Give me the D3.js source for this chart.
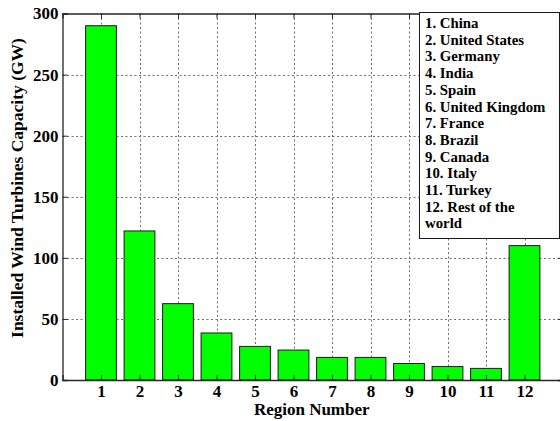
<!DOCTYPE html>
<html>
<head>
<meta charset="utf-8">
<script src="https://cdn.jsdelivr.net/npm/d3@7"></script>
<style>
  html, body { margin: 0; padding: 0; background: #fff; }
  svg { display: block; }
  text { font-family: "Liberation Serif", "Times New Roman", serif; font-weight: bold; fill: #000; }
</style>
</head>
<body>
<svg id="chart" width="560" height="421"></svg>
<script>
// Installed wind turbine capacity by region (GW)
const regions = [1, 2, 3, 4, 5, 6, 7, 8, 9, 10, 11, 12];
const capacityGW = [290, 122, 62.5, 38.5, 27.5, 24.5, 18.5, 18.5, 13.5, 11, 9.5, 110];
const yTicks = [0, 50, 100, 150, 200, 250, 300];
const legendLabels = [
  "1. China", "2. United States", "3. Germany", "4. India", "5. Spain",
  "6. United Kingdom", "7. France", "8. Brazil", "9. Canada", "10. Italy",
  "11. Turkey", "12. Rest of the", "world"
];

const svg = d3.select("#chart");
const plot = { left: 62.5, right: 563, top: 13.5, bottom: 380 };

// x runs from 0 to 13 like a default bar plot, bars are 0.8 wide
const x = d3.scaleLinear().domain([0, 13]).range([plot.left, plot.right]);
const y = d3.scaleLinear().domain([0, 300]).range([plot.bottom, plot.top]);
const barW = x(0.8) - x(0);

// dotted grid
const grid = svg.append("g").attr("stroke", "#6e6e6e").attr("stroke-width", 1)
  .attr("stroke-dasharray", "2,2.5");
grid.selectAll("line.v").data(regions).join("line")
  .attr("x1", d => Math.round(x(d)) + 0.5).attr("x2", d => Math.round(x(d)) + 0.5)
  .attr("y1", plot.top).attr("y2", plot.bottom);
grid.selectAll("line.h").data(yTicks.filter(d => d > 0 && d < 300)).join("line")
  .attr("x1", plot.left).attr("x2", plot.right)
  .attr("y1", d => Math.round(y(d)) + 0.5).attr("y2", d => Math.round(y(d)) + 0.5);

// bars
svg.append("g").selectAll("rect").data(regions).join("rect")
  .attr("x", (d, i) => x(d) - barW / 2)
  .attr("width", barW)
  .attr("y", (d, i) => y(capacityGW[i]))
  .attr("height", (d, i) => y(0) - y(capacityGW[i]))
  .attr("fill", "#00ff00")
  .attr("stroke", "#1a1a1a")
  .attr("stroke-width", 1);

// axes with inward ticks
const xAxis = d3.axisBottom(x).tickValues(regions).tickSize(-5).tickPadding(5).tickFormat(d3.format("d"));
const yAxis = d3.axisLeft(y).tickValues(yTicks).tickSize(-5).tickPadding(4);
const xAxisTop = d3.axisTop(x).tickValues(regions).tickSize(-5).tickFormat("");
const yAxisRight = d3.axisRight(y).tickValues(yTicks).tickSize(-5).tickFormat("");

function styleAxis(g) {
  g.select(".domain").attr("stroke", "#262626").attr("stroke-width", 1.3);
  g.selectAll(".tick line").attr("stroke", "#262626");
  g.selectAll("text").style("font-family", '"Liberation Serif", serif')
    .style("font-weight", "bold").style("font-size", "17px").attr("fill", "#000");
}

svg.append("g").attr("transform", `translate(0,${plot.bottom})`).call(xAxis).call(styleAxis);
svg.append("g").attr("transform", `translate(${plot.left},0)`).call(yAxis).call(styleAxis);
svg.append("g").attr("transform", `translate(0,${plot.top})`).call(xAxisTop).call(styleAxis);
svg.append("g").attr("transform", `translate(${plot.right},0)`).call(yAxisRight).call(styleAxis);

// axis titles
svg.append("text")
  .attr("x", (plot.left + plot.right) / 2 - 1).attr("y", 415)
  .attr("text-anchor", "middle").style("font-size", "17px")
  .text("Region Number");
svg.append("text")
  .attr("transform", `translate(23,188) rotate(-90)`)
  .attr("text-anchor", "middle").style("font-size", "17.5px")
  .text("Installed Wind Turbines Capacity (GW)");

// legend listing the regions
const legend = svg.append("g");
legend.append("rect")
  .attr("x", 419.5).attr("y", 12.5).attr("width", 140).attr("height", 226)
  .attr("fill", "#fff").attr("stroke", "#1a1a1a").attr("stroke-width", 1);
legend.selectAll("text").data(legendLabels).join("text")
  .attr("x", 425).attr("y", (d, i) => 28 + i * 16.7)
  .style("font-size", "14.8px")
  .text(d => d);
</script>
</body>
</html>
